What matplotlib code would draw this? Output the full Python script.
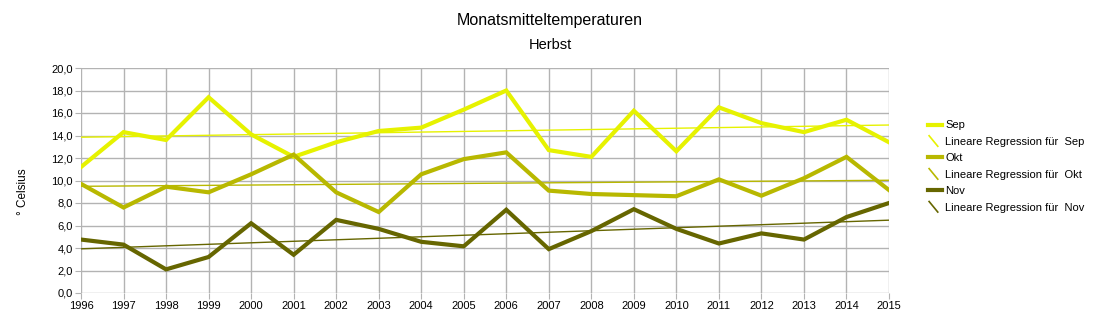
import numpy as np
import matplotlib
matplotlib.use("Agg")
import matplotlib.pyplot as plt
from matplotlib.lines import Line2D
from matplotlib.legend_handler import HandlerLine2D
from matplotlib.ticker import FuncFormatter, MultipleLocator

plt.rcParams['font.family'] = ['Liberation Sans', 'DejaVu Sans']

years = list(range(1996, 2016))
sep = [11.2, 14.3, 13.6, 17.4, 14.1, 12.1, 13.4, 14.4, 14.7, 16.3,
       18.0, 12.7, 12.1, 16.2, 12.6, 16.5, 15.1, 14.3, 15.4, 13.4]
okt = [9.7, 7.6, 9.45, 8.95, 10.55, 12.3, 8.95, 7.2, 10.55, 11.9,
       12.5, 9.1, 8.8, 8.7, 8.6, 10.1, 8.65, 10.2, 12.1, 9.15]
nov = [4.75, 4.3, 2.1, 3.2, 6.2, 3.4, 6.5, 5.7, 4.55, 4.15,
       7.4, 3.9, 5.5, 7.45, 5.7, 4.4, 5.3, 4.75, 6.75, 8.0]
names = ['Sep', 'Okt', 'Nov']
colors = ['#e6f200', '#b8b800', '#666600']


class HandlerDiag(HandlerLine2D):
    # short diagonal stroke like the LibreOffice trendline legend entry
    def create_artists(self, legend, orig_handle, xdescent, ydescent,
                       width, height, fontsize, trans):
        l = Line2D([0.05 * width - xdescent, 0.7 * width - xdescent],
                   [height - ydescent + 1, -ydescent - 1],
                   color=orig_handle.get_color(), lw=1.2)
        l.set_transform(trans)
        return [l]


fig = plt.figure(figsize=(11, 3.33), dpi=100)
ax = fig.add_axes([81 / 1100, 1 - 293 / 333, (889 - 81) / 1100, (293 - 68) / 333])

x = np.array(years)
handles = []
labels = []
for vals, name, c in zip([sep, okt, nov], names, colors):
    h, = ax.plot(x, vals, color=c, lw=3, solid_joinstyle='miter', zorder=3)
    k, d = np.polyfit(x, vals, 1)
    r, = ax.plot(x, k * x + d, color=c, lw=1, zorder=2)
    handles += [h, r]
    labels += [name, 'Lineare Regression für  ' + name]

ax.set_xlim(1996, 2015)
ax.set_ylim(0, 20)
ax.set_xticks(years)
ax.yaxis.set_major_locator(MultipleLocator(2))
ax.yaxis.set_major_formatter(FuncFormatter(lambda v, p: ('%.1f' % v).replace('.', ',')))
ax.grid(True, color='#b3b3b3', lw=1)
ax.set_axisbelow(True)
for s in ax.spines.values():
    s.set_visible(False)
ax.tick_params(length=4, color='#b3b3b3', labelsize=8, pad=2)

fig.text(0.5, 1 - 20 / 333, 'Monatsmitteltemperaturen',
         ha='center', va='center', fontsize=11.5)
fig.text(0.5, 1 - 45 / 333, 'Herbst',
         ha='center', va='center', fontsize=10.5)
fig.text(23 / 1100, 1 - 192 / 333, '° Celsius', rotation=90,
         ha='center', va='center', fontsize=8.5)

hmap = {handles[i]: HandlerDiag() for i in (1, 3, 5)}
fig.legend(handles, labels, handler_map=hmap, loc='upper left',
           bbox_to_anchor=(924 / 1100, 1 - 116 / 333), frameon=False,
           fontsize=8, handlelength=1.2, handletextpad=0.3, labelspacing=0.58,
           borderaxespad=0)

fig.savefig('out.png', dpi=100)
